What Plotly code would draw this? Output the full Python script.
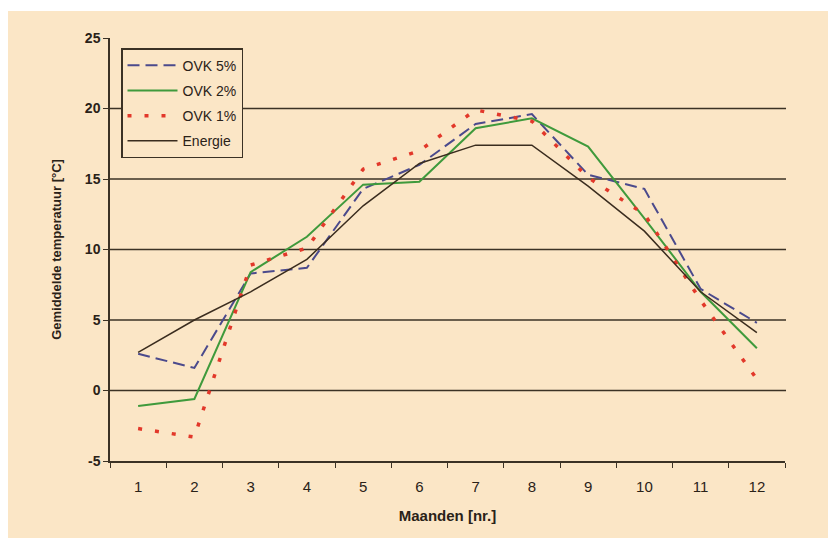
import plotly.graph_objects as go

months = ["1", "2", "3", "4", "5", "6", "7", "8", "9", "10", "11", "12"]
ovk5 = [2.6, 1.6, 8.3, 8.7, 14.3, 16.0, 18.9, 19.6, 15.3, 14.3, 7.2, 4.8]
ovk2 = [-1.1, -0.6, 8.4, 10.9, 14.6, 14.8, 18.6, 19.3, 17.3, 12.2, 7.0, 3.0]
ovk1 = [-2.7, -3.3, 8.9, 10.1, 15.7, 17.0, 19.9, 19.1, 15.1, 12.5, 6.4, 0.8]
energie = [2.7, 5.0, 7.0, 9.3, 13.1, 16.1, 17.4, 17.4, 14.5, 11.3, 7.0, 4.1]
y_ticks = [-5, 0, 5, 10, 15, 20, 25]
grid_vals = [0, 5, 10, 15, 20]

BG = "#fbe6c6"
DARK = "#3b3225"
FONT = "Liberation Sans, Arial, sans-serif"

fig = go.Figure()
fig.add_trace(go.Scatter(x=months, y=ovk5, mode="lines", name="OVK 5%", legendgroup="a",
                         line=dict(color="#4b4a8c", width=2, dash="12px,6px")))
fig.add_trace(go.Scatter(x=months, y=ovk2, mode="lines", name="OVK 2%", legendgroup="b",
                         line=dict(color="#3f9a3c", width=2)))
fig.add_trace(go.Scatter(x=months, y=ovk1, mode="lines", name="OVK 1%", legendgroup="c",
                         line=dict(color="#e2382a", width=3.5, dash="4px,13px")))
fig.add_trace(go.Scatter(x=months, y=energie, mode="lines", name="Energie", legendgroup="d",
                         line=dict(color="#3a2c1e", width=1.5)))

# beige card behind the chart
fig.add_shape(type="rect", xref="paper", yref="paper", x0=-0.154, x1=1.08, y0=-0.182, y1=1.0638,
              fillcolor=BG, line=dict(width=0), layer="below")
for v in grid_vals:
    fig.add_shape(type="line", xref="paper", yref="y", x0=0, x1=1.0015, y0=v, y1=v,
                  line=dict(color=DARK, width=1.6), layer="below")

fig.update_layout(
    width=828, height=531,
    margin=dict(l=102, r=51, t=30, b=78),
    paper_bgcolor="white", plot_bgcolor="rgba(0,0,0,0)",
    font=dict(family=FONT, color="#2a2218", size=14),
    legend=dict(x=0.0163, y=0.976, xanchor="left", yanchor="top",
                bgcolor=BG, bordercolor=DARK, borderwidth=1.5, itemwidth=50,
                entrywidth=95,
                font=dict(size=14, color="#2a2218"), tracegroupgap=4),
    xaxis=dict(type="category", tickson="boundaries", ticks="outside", ticklen=5,
               range=[-0.5, 11.5],
               tickcolor=DARK, showline=True, linecolor=DARK, linewidth=1.5,
               showgrid=False, zeroline=False, ticklabelstandoff=11,
               tickfont=dict(size=15),
               title=dict(text="<b>Maanden [nr.]</b>", font=dict(size=15), standoff=17)),
    yaxis=dict(range=[-5, 25], tickvals=y_ticks, ticktext=[f"<b>{v}</b>" for v in y_ticks],
               ticks="outside", ticklen=5, tickcolor=DARK, showline=True, linecolor=DARK,
               linewidth=1.5, showgrid=False, zeroline=False, tickfont=dict(size=14),
               title=dict(text="<b>Gemiddelde temperatuur [°C]</b>", font=dict(size=13), standoff=20)),
)
fig.write_html("out.html")
